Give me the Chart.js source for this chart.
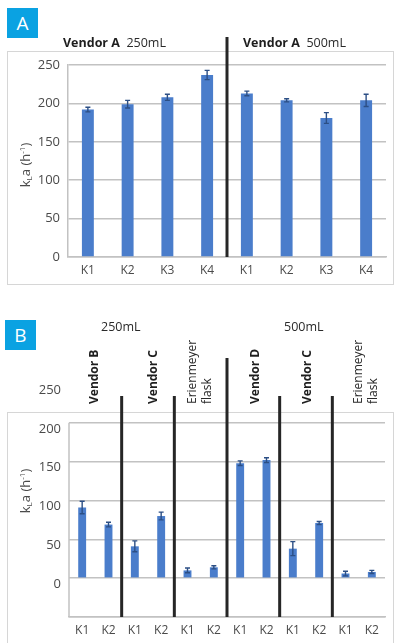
<!DOCTYPE html>
<html>
<head>
<meta charset="utf-8">
<script src="https://cdn.jsdelivr.net/npm/chart.js@4/dist/chart.umd.min.js"></script>
<style>
  html, body { margin: 0; padding: 0; background: #fff; }
  body { width: 396px; height: 643px; position: relative; overflow: hidden; font-family: "Open Sans", "Noto Sans", sans-serif; color: #333; }
  canvas { position: absolute; left: 0; top: 0; }
  .frame { position: absolute; border: 1.5px solid #d6d6d6; box-sizing: border-box; }
  .badge { position: absolute; width: 31px; height: 30px; background: #0aa2e2; color: #fff; font-size: 19px; line-height: 30px; text-align: center; }
  .txt { position: absolute; white-space: nowrap; font-size: 12.5px; line-height: 14px; color: #2a2a2a; }
  .txt b { font-weight: 700; color: #1e1e1e; }
  .rot { position: absolute; white-space: nowrap; font-size: 12px; line-height: 15px; color: #2a2a2a; transform-origin: 0 0; transform: rotate(-90deg); }
  .rot.b { font-weight: 700; color: #1e1e1e; }
  .ytitle { position: absolute; white-space: nowrap; font-size: 13px; color: #4a4a4a; transform: translate(-50%, -50%) rotate(-90deg); }
  .ytitle sub { font-size: 8px; vertical-align: -2px; }
  .ytitle sup { font-size: 8px; vertical-align: 5px; }
</style>
</head>
<body>
<div class="frame" style="left:7px; top:51px; width:387px; height:234px;"></div>
<div class="frame" style="left:7px; top:412px; width:387px; height:260px;"></div>

<canvas id="chartA" width="396" height="643"></canvas>
<canvas id="chartB" width="396" height="643"></canvas>

<div class="badge" style="left:7px; top:8px;">A</div>
<div class="badge" style="left:5px; top:320px;">B</div>

<div class="txt" style="left:63px; top:36px;"><b>Vendor A</b>&nbsp; 250mL</div>
<div class="txt" style="left:243px; top:36px;"><b>Vendor A</b>&nbsp; 500mL</div>

<div class="txt" style="left:101px; top:320px;">250mL</div>
<div class="txt" style="left:284px; top:320px;">500mL</div>

<div class="rot b" style="left:86px; top:404px;">Vendor B</div>
<div class="rot b" style="left:145px; top:404px;">Vendor C</div>
<div class="rot" style="left:184px; top:404px;">Erienmeyer<br>flask</div>
<div class="rot b" style="left:247px; top:404px;">Vendor D</div>
<div class="rot b" style="left:299px; top:404px;">Vendor C</div>
<div class="rot" style="left:350px; top:404px;">Erienmeyer<br>flask</div>

<div class="ytitle" style="left:25px; top:165px;">k<sub>L</sub>a (h<sup>-1</sup>)</div>
<div class="ytitle" style="left:25px; top:491px;">k<sub>L</sub>a (h<sup>-1</sup>)</div>

<script>
// Panel A: Vendor A, 250 mL and 500 mL vessels
const categoriesA = ['K1', 'K2', 'K3', 'K4', 'K1', 'K2', 'K3', 'K4'];
const kLaA = [192, 199, 208, 237, 213, 204, 181, 204];
const errA = [3, 5, 4, 6, 3, 2, 7, 8];
const yTicksA = [0, 50, 100, 150, 200, 250];

// Panel B: Vendor B / C / Erienmeyer at 250 mL, Vendor D / C / Erienmeyer at 500 mL
const categoriesB = ['K1', 'K2', 'K1', 'K2', 'K1', 'K2', 'K1', 'K2', 'K1', 'K2', 'K1', 'K2'];
const kLaB = [91, 69, 41, 80, 10, 14, 148, 152, 38, 71, 6, 8];
const errB = [8, 3, 7, 5, 3, 2, 3, 3, 9, 2, 3, 2];
const yTicksB = [-50, 0, 50, 100, 150, 200, 250];

const BAR_BLUE = '#4a7dcb';
const GRID = '#c2c2c2';
const TICK_FONT = { family: '"Open Sans", "Noto Sans", sans-serif', size: 12 };

// Error bars and group separators drawn on top of the bars.
const overlay = {
  id: 'overlay',
  afterDatasetsDraw(chart, args, opts) {
    const ctx = chart.ctx;
    const xs = chart.scales.x, ys = chart.scales.y;
    const values = chart.data.datasets[0].data;
    const meta = chart.getDatasetMeta(0);
    ctx.save();
    ctx.strokeStyle = '#2c4f85';
    ctx.lineWidth = 1.4;
    meta.data.forEach((bar, i) => {
      const v = values[i], e = opts.errors[i];
      const t = ys.getPixelForValue(v + e), b = ys.getPixelForValue(v - e);
      ctx.beginPath();
      ctx.moveTo(bar.x, t); ctx.lineTo(bar.x, b);
      ctx.moveTo(bar.x - 2.5, t); ctx.lineTo(bar.x + 2.5, t);
      ctx.moveTo(bar.x - 2.5, b); ctx.lineTo(bar.x + 2.5, b);
      ctx.stroke();
    });
    if (opts.axisFrom !== undefined) {
      ctx.strokeStyle = GRID;
      ctx.lineWidth = 1.5;
      ctx.beginPath();
      ctx.moveTo(chart.chartArea.left, ys.getPixelForValue(opts.axisFrom));
      ctx.lineTo(chart.chartArea.left, ys.getPixelForValue(opts.axisTo));
      ctx.stroke();
    }
    ctx.strokeStyle = '#262626';
    ctx.lineWidth = 3;
    opts.separators.forEach(s => {
      const px = (xs.getPixelForValue(s.after) + xs.getPixelForValue(s.after + 1)) / 2;
      ctx.beginPath();
      ctx.moveTo(px, chart.chartArea.bottom);
      ctx.lineTo(px, s.top);
      ctx.stroke();
    });
    ctx.restore();
  }
};

function buildChart(id, cats, vals, cfg) {
  return new Chart(document.getElementById(id), {
    type: 'bar',
    data: {
      labels: cats,
      datasets: [{ data: vals, backgroundColor: BAR_BLUE, barPercentage: 0.3, categoryPercentage: 1 }]
    },
    options: {
      responsive: false,
      animation: false,
      events: [],
      layout: { padding: cfg.padding },
      plugins: { legend: { display: false }, tooltip: { enabled: false }, overlay: cfg.overlay },
      scales: {
        x: {
          grid: { display: false, drawTicks: false },
          border: { display: true, color: GRID, width: 1.5 },
          ticks: { color: '#4a4a4a', font: TICK_FONT, padding: 6, maxRotation: 0, autoSkip: false },
          afterFit: s => { s.height = cfg.xHeight; }
        },
        y: {
          min: cfg.min, max: cfg.max,
          afterBuildTicks: s => { s.ticks = cfg.ticks.map(v => ({ value: v })); },
          grid: { color: cfg.gridColor, lineWidth: 1.5, drawTicks: false },
          border: { display: cfg.yBorder, color: GRID, width: 1.5 },
          ticks: { color: '#4a4a4a', font: { ...TICK_FONT, size: 13 }, padding: 8,
                   labelOffset: cfg.labelOffset, callback: cfg.tickLabel },
          afterFit: s => { s.width = cfg.yWidth; }
        }
      }
    },
    plugins: [overlay]
  });
}

buildChart('chartA', categoriesA, kLaA, {
  padding: { left: 0, right: 10, top: 65, bottom: 643 - 257 - 30 },
  xHeight: 30, yWidth: 68,
  min: 0, max: 250, ticks: yTicksA,
  gridColor: GRID, yBorder: true, labelOffset: 0,
  tickLabel: v => String(v),
  overlay: { errors: errA, separators: [{ after: 3, top: 37 }] }
});

buildChart('chartB', categoriesB, kLaB, {
  padding: { left: 0, right: 11, top: 384, bottom: 0 },
  xHeight: 26, yWidth: 69,
  min: -50, max: 250, ticks: yTicksB,
  gridColor: ctx => (ctx.tick && ctx.tick.value === 250) ? 'rgba(0,0,0,0)' : GRID,
  yBorder: false, labelOffset: 6,
  tickLabel: v => (v < 0 ? '' : String(v)),
  overlay: {
    errors: errB, axisFrom: -50, axisTo: 200,
    separators: [
      { after: 1, top: 396 }, { after: 3, top: 396 }, { after: 5, top: 358 },
      { after: 7, top: 396 }, { after: 9, top: 396 }
    ]
  }
});
</script>
</body>
</html>
